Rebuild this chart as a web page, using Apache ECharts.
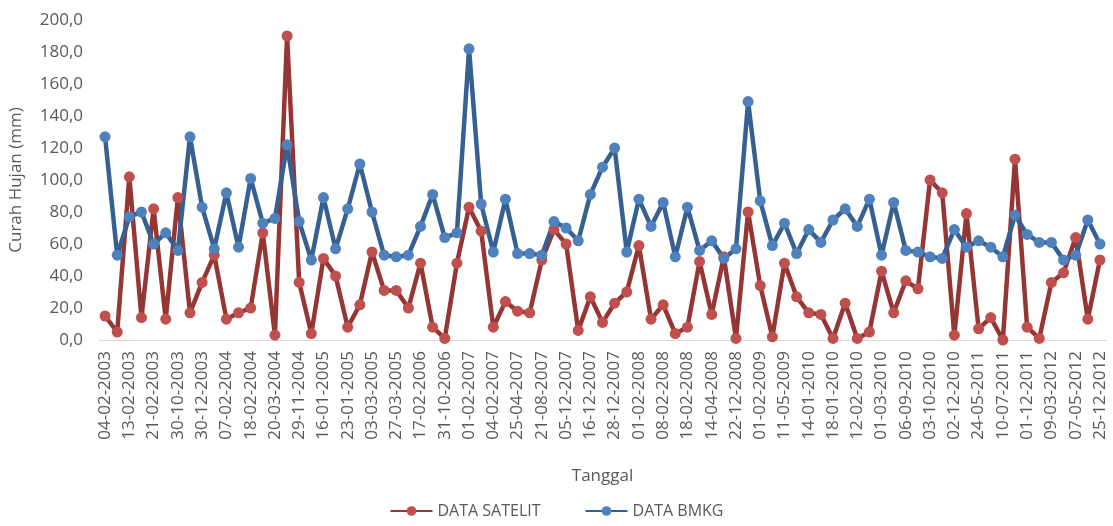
<!DOCTYPE html>
<html lang="id">
<head>
    <meta charset="UTF-8" />
    <title>Curah Hujan</title>
    <script src="https://cdn.jsdelivr.net/npm/echarts@6/dist/echarts.min.js"></script>
    <style>
        html, body { margin: 0; padding: 0; background: #fff; }
    </style>
</head>
<body>
    <div id="chart" style="width: 1113px; height: 526px"></div>
    <script>
        // tanggal (label hanya tampil tiap dua kategori)
        var tanggal = [
            "04-02-2003", "08-02-2003", "13-02-2003", "17-02-2003", "21-02-2003", "12-03-2003",
            "30-10-2003", "15-11-2003", "30-12-2003", "03-02-2004", "07-02-2004", "12-02-2004",
            "18-02-2004", "05-03-2004", "20-03-2004", "24-11-2004", "29-11-2004", "10-01-2005",
            "16-01-2005", "20-01-2005", "23-01-2005", "18-02-2005", "03-03-2005", "15-03-2005",
            "27-03-2005", "24-01-2006", "17-02-2006", "12-04-2006", "31-10-2006", "26-01-2007",
            "01-02-2007", "03-02-2007", "04-02-2007", "22-03-2007", "25-04-2007", "14-06-2007",
            "21-08-2007", "10-11-2007", "05-12-2007", "11-12-2007", "16-12-2007", "22-12-2007",
            "28-12-2007", "07-01-2008", "01-02-2008", "05-02-2008", "08-02-2008", "12-02-2008",
            "18-02-2008", "21-03-2008", "14-04-2008", "05-11-2008", "22-12-2008", "20-01-2009",
            "01-02-2009", "06-03-2009", "11-05-2009", "23-12-2009", "14-01-2010", "16-01-2010",
            "18-01-2010", "28-01-2010", "12-02-2010", "20-02-2010", "01-03-2010", "14-04-2010",
            "06-09-2010", "22-09-2010", "03-10-2010", "11-11-2010", "02-12-2010", "19-02-2011",
            "24-05-2011", "18-06-2011", "10-07-2011", "29-09-2011", "01-12-2011", "14-01-2012",
            "09-03-2012", "04-04-2012", "07-05-2012", "12-09-2012", "25-12-2012"
        ];

        var dataSatelit = [
            15, 5, 102, 14, 82, 13, 89, 17, 36, 53,
            13, 17, 20, 67, 3, 190, 36, 4, 51, 40,
            8, 22, 55, 31, 31, 20, 48, 8, 1, 48,
            83, 68, 8, 24, 18, 17, 50, 69, 60, 6,
            27, 11, 23, 30, 59, 13, 22, 4, 8, 49,
            16, 52, 1, 80, 34, 2, 48, 27, 17, 16,
            1, 23, 1, 5, 43, 17, 37, 32, 100, 92,
            3, 79, 7, 14, 0, 113, 8, 1, 36, 42,
            64, 13, 50
        ];

        var dataBmkg = [
            127, 53, 77, 80, 60, 67, 56, 127, 83, 57,
            92, 58, 101, 73, 76, 122, 74, 50, 89, 57,
            82, 110, 80, 53, 52, 53, 71, 91, 64, 67,
            182, 85, 55, 88, 54, 54, 53, 74, 70, 62,
            91, 108, 120, 55, 88, 71, 86, 52, 83, 56,
            62, 51, 57, 149, 87, 59, 73, 54, 69, 61,
            75, 82, 71, 88, 53, 86, 56, 55, 52, 51,
            69, 58, 62, 58, 52, 78, 66, 61, 61, 50,
            53, 75, 60
        ];

        var font = "'Open Sans', sans-serif";
        var chart = echarts.init(document.getElementById("chart"));

        var option = {
            animation: false,
            textStyle: { fontFamily: font },
            grid: { left: 98, right: 7, top: 20, bottom: 186 },
            legend: {
                bottom: 2,
                left: "center",
                itemWidth: 42,
                itemHeight: 12,
                itemGap: 44,
                textStyle: { fontSize: 16, color: "#595959", fontFamily: font },
                data: ["DATA SATELIT", "DATA BMKG"]
            },
            xAxis: {
                type: "category",
                data: tanggal,
                name: "Tanggal",
                nameLocation: "middle",
                nameGap: 128,
                nameTextStyle: { fontSize: 17, color: "#595959" },
                axisLine: { lineStyle: { color: "#d9d9d9", width: 1 } },
                axisTick: { show: false },
                axisLabel: {
                    interval: 1,
                    rotate: 90,
                    fontSize: 17,
                    color: "#595959",
                    margin: 11
                }
            },
            yAxis: {
                type: "value",
                min: 0,
                max: 200,
                interval: 20,
                name: "Curah Hujan (mm)",
                nameLocation: "middle",
                nameGap: 74,
                nameTextStyle: { fontSize: 17, color: "#595959" },
                axisLine: { show: false },
                axisTick: { show: false },
                splitLine: { show: false },
                axisLabel: {
                    fontSize: 17,
                    color: "#595959",
                    margin: 16,
                    formatter: function (v) {
                        return v.toFixed(1).replace(".", ",");
                    }
                }
            },
            series: [
                {
                    name: "DATA SATELIT",
                    type: "line",
                    data: dataSatelit,
                    symbol: "circle",
                    symbolSize: 11,
                    showAllSymbol: true,
                    lineStyle: { color: "#943634", width: 4.5 },
                    itemStyle: { color: "#c0504d" }
                },
                {
                    name: "DATA BMKG",
                    type: "line",
                    data: dataBmkg,
                    symbol: "circle",
                    symbolSize: 11,
                    showAllSymbol: true,
                    lineStyle: { color: "#376092", width: 4.5 },
                    itemStyle: { color: "#4f81bd" }
                }
            ]
        };
        chart.setOption(option);
    </script>
</body>
</html>
